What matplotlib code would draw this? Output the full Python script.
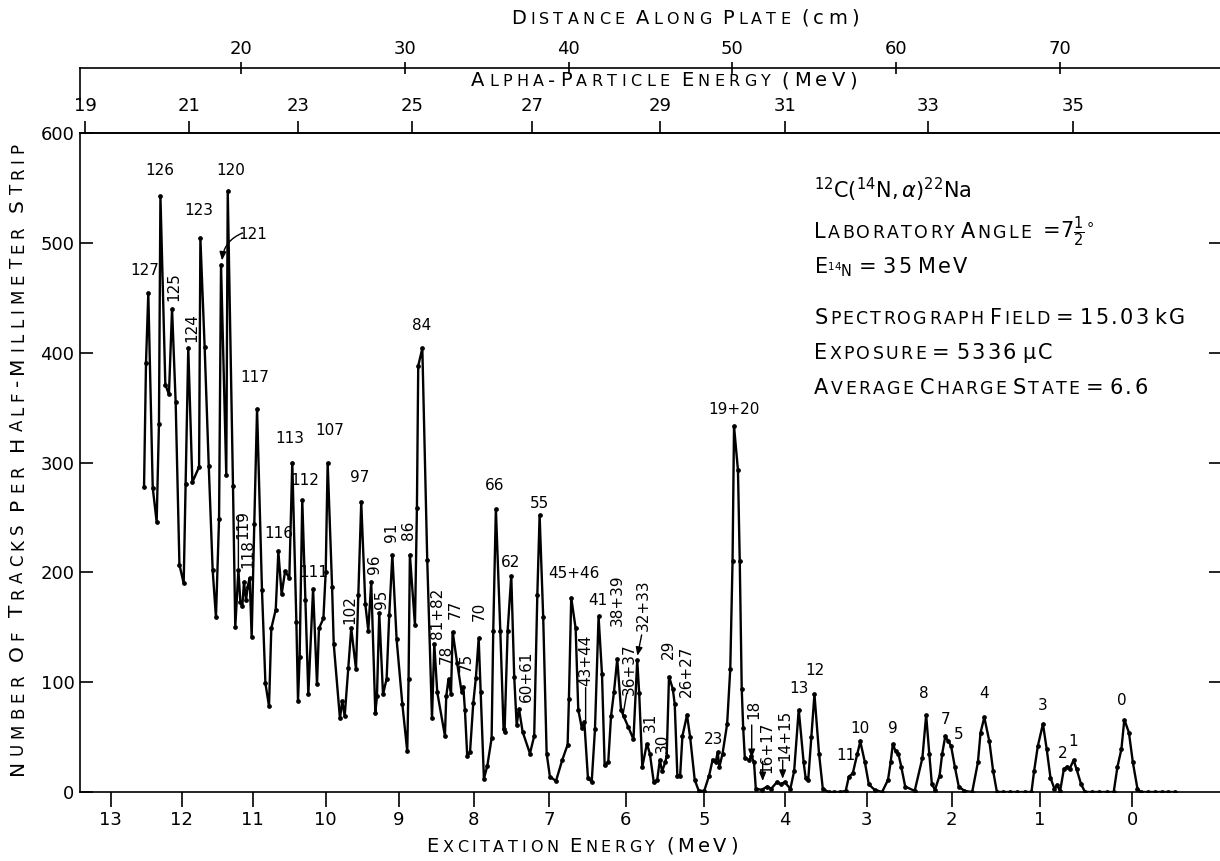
import matplotlib
matplotlib.use("Agg")
import matplotlib.pyplot as plt
from matplotlib.offsetbox import TextArea, HPacker, AnnotationBbox

plt.rcParams["font.family"] = ["DejaVu Sans"]
plt.rcParams["mathtext.fontset"] = "dejavusans"
plt.rcParams["axes.linewidth"] = 1.2

# spectrum: position along plate (cm) and tracks per strip
plate_cm = [
    14.08, 14.20, 14.34, 14.61, 14.85, 14.99, 15.08, 15.38, 15.60, 15.79,
    16.01, 16.24, 16.50, 16.62, 16.78, 17.03, 17.44, 17.52, 17.78, 18.03,
    18.27, 18.47, 18.66, 18.78, 19.10, 19.19, 19.51, 19.65, 19.84, 19.96,
    20.08, 20.18, 20.31, 20.41, 20.53, 20.65, 20.81, 20.98, 21.28, 21.49,
    21.71, 21.85, 22.12, 22.28, 22.48, 22.69, 22.95, 23.13, 23.38, 23.48,
    23.58, 23.74, 23.93, 24.11, 24.40, 24.64, 24.76, 25.03, 25.17, 25.29,
    25.56, 25.66, 26.04, 26.18, 26.33, 26.55, 26.73, 27.02, 27.16, 27.34,
    27.59, 27.77, 27.95, 28.20, 28.30, 28.44, 28.67, 28.89, 29.05, 29.24,
    29.50, 29.85, 30.15, 30.23, 30.31, 30.62, 30.74, 30.82, 31.07, 31.37,
    31.66, 31.80, 31.98, 32.45, 32.53, 32.67, 32.82, 32.92, 33.20, 33.47,
    33.57, 33.67, 33.81, 33.98, 34.18, 34.34, 34.51, 34.63, 34.83, 35.04,
    35.30, 35.40, 35.56, 35.83, 36.03, 36.09, 36.28, 36.50, 36.68, 36.83,
    36.97, 37.19, 37.64, 37.90, 38.09, 38.23, 38.45, 38.66, 38.86, 39.23,
    39.61, 39.94, 40.02, 40.16, 40.43, 40.59, 40.81, 40.96, 41.18, 41.41,
    41.61, 41.83, 42.04, 42.20, 42.42, 42.59, 42.77, 42.97, 43.20, 43.36,
    43.65, 43.96, 44.19, 44.31, 44.50, 44.78, 44.96, 45.20, 45.41, 45.57,
    45.71, 45.90, 45.99, 46.13, 46.36, 46.48, 46.64, 46.81, 46.95, 47.23,
    47.42, 47.70, 47.95, 48.28, 48.58, 48.79, 48.98, 49.10, 49.21, 49.40,
    49.68, 49.87, 50.01, 50.10, 50.34, 50.45, 50.57, 50.66, 50.76, 51.04,
    51.15, 51.32, 51.43, 51.78, 52.14, 52.37, 52.72, 52.95, 53.19, 53.54,
    53.77, 54.05, 54.35, 54.47, 54.63, 54.82, 55.01, 55.29, 55.52, 55.87,
    56.22, 56.57, 56.92, 57.11, 57.35, 57.63, 57.81, 58.09, 58.33, 58.68,
    59.14, 59.50, 59.66, 59.80, 59.96, 60.13, 60.31, 60.55, 61.13, 61.60,
    61.83, 62.02, 62.18, 62.37, 62.65, 62.81, 63.00, 63.19, 63.35, 63.58,
    63.82, 64.17, 64.64, 64.99, 65.15, 65.38, 65.69, 65.92, 66.15, 66.55,
    66.95, 67.40, 67.85, 68.26, 68.42, 68.65, 68.96, 69.19, 69.42, 69.66,
    69.82, 70.01, 70.24, 70.43, 70.59, 70.83, 71.01, 71.29, 71.53, 71.95,
    72.40, 72.85, 73.28, 73.51, 73.75, 73.93, 74.21, 74.45, 74.73, 74.92,
    75.35, 75.80, 76.20, 76.60, 77.02,
]
tracks = [
    278, 391, 454, 277, 246, 335, 543, 371, 362, 440,
    355, 207, 190, 280, 404, 282, 296, 504, 405, 297,
    202, 159, 249, 480, 289, 547, 279, 150, 202, 173,
    169, 191, 175, 187, 195, 141, 244, 349, 184, 99,
    78, 149, 166, 219, 180, 201, 195, 300, 155, 83,
    123, 266, 175, 89, 185, 98, 149, 158, 200, 300,
    187, 135, 67, 83, 69, 113, 149, 112, 179, 264,
    171, 147, 191, 72, 87, 163, 89, 103, 161, 216,
    139, 80, 37, 103, 216, 152, 259, 388, 404, 211,
    67, 135, 91, 51, 87, 103, 89, 146, 117, 91,
    96, 75, 33, 36, 81, 104, 140, 91, 12, 24,
    49, 147, 258, 147, 57, 55, 147, 197, 105, 61,
    76, 55, 35, 51, 179, 252, 159, 35, 14, 10,
    29, 43, 85, 177, 149, 75, 58, 64, 13, 9,
    57, 160, 107, 25, 27, 69, 91, 121, 75, 69,
    59, 48, 120, 90, 23, 44, 35, 9, 11, 29,
    19, 27, 33, 105, 94, 80, 15, 15, 51, 70,
    50, 11, 1, 1, 15, 29, 27, 36, 23, 35,
    62, 112, 210, 333, 293, 210, 94, 58, 31, 29,
    33, 27, 3, 2, 5, 3, 9, 7, 9, 3,
    19, 75, 27, 13, 11, 50, 89, 35, 3, 0,
    0, 0, 1, 14, 17, 35, 46, 27, 7, 2,
    0, 11, 27, 44, 37, 35, 23, 5, 1, 31,
    70, 35, 7, 2, 15, 35, 51, 46, 42, 23,
    5, 1, 0, 27, 54, 68, 46, 19, 0, 0,
    0, 0, 0, 0, 19, 42, 62, 39, 13, 3,
    6, 1, 21, 23, 21, 29, 21, 7, 0, 0,
    0, 0, 0, 23, 39, 66, 54, 27, 3, 0,
    0, 0, 0, 0, 0,
]

# energy scales are not linear along the plate: calibration
ex_mev = [13, 12, 11, 10, 9, 8, 7, 6, 5, 4, 3, 2, 1, 0]
ex_cm = [12.05, 16.38, 20.71, 25.17, 29.65, 34.22, 38.80, 43.50, 48.28,
         53.19, 58.21, 63.39, 68.77, 74.40]
alpha_mev = [19, 21, 23, 25, 27, 29, 31, 33, 35]
alpha_cm = [10.48, 16.84, 23.50, 30.42, 37.75, 45.59, 53.23, 61.95, 70.78]
distance_ticks = [20, 30, 40, 50, 60, 70]

# level labels: text, plate position, height, rotation
peak_text = ["127", "126", "125", "124", "123", "120", "121", "117", "119", "118",
             "116", "113", "112", "111", "107", "102", "97", "96", "95", "91",
             "86", "84", "81+82", "78", "77", "75", "70", "66", "62", "60+61",
             "55", "45+46", "43+44", "41", "38+39", "36+37", "32+33", "31", "30", "29",
             "26+27", "23", "19+20", "18", "16+17", "14+15", "13", "12", "11", "10",
             "9", "8", "7", "5", "4", "3", "2", "1", "0"]
peak_x = [14.14, 15.05, 15.87, 16.99, 17.40, 19.37, 20.69, 20.86, 20.10, 20.41,
          22.28, 22.95, 23.87, 24.42, 25.39, 26.65, 27.22, 28.12, 28.60, 29.17,
          30.23, 31.03, 32.02, 32.53, 33.09, 33.77, 34.57, 35.46, 36.48, 37.40,
          38.25, 40.35, 41.07, 41.80, 42.95, 43.71, 44.55, 44.97, 45.74, 46.10,
          47.18, 48.85, 50.12, 51.32, 52.09, 53.21, 54.07, 55.05, 56.92, 57.79,
          59.78, 61.71, 63.00, 63.82, 65.34, 68.96, 70.17, 70.78, 73.75]
peak_y = [475, 566, 460, 423, 529, 566, 508, 377, 244, 217,
          235, 322, 284, 200, 329, 166, 286, 207, 175, 236,
          238, 425, 163, 125, 166, 118, 164, 279, 209, 105,
          263, 199, 120, 174, 175, 112, 170, 63, 44, 130,
          110, 48, 348, 75, 41, 52, 94, 111, 33, 58,
          58, 90, 66, 52.5, 90, 79, 35, 46, 83]
peak_rot = [0, 0, 90, 90, 0, 0, 0, 0, 90, 90,
            0, 0, 0, 0, 0, 90, 0, 90, 90, 90,
            90, 0, 90, 90, 90, 90, 90, 0, 0, 90,
            0, 0, 90, 0, 90, 90, 90, 90, 90, 90,
            90, 0, 0, 90, 90, 90, 0, 0, 0, 0,
            0, 0, 0, 0, 0, 0, 0, 0, 0]

# leader lines from labels to peaks: (x_from, y_from, x_to, y_to, arrowhead)
leaders = [
    (20.10, 509, 18.84, 484, True),
    (19.84, 251, 19.84, 204, False),
    (41.04, 95, 41.04, 65, False),
    (43.55, 90, 43.32, 70, False),
    (44.46, 143, 44.20, 124, True),
    (51.18, 61, 51.18, 31, True),
    (51.85, 28, 51.85, 10, True),
    (53.07, 29, 53.07, 12, True),
]

W, H = 1220, 861
fig = plt.figure(figsize=(W / 100, H / 100), dpi=100)
ax = fig.add_axes([80 / W, 1 - 792 / H, (W - 80) / W, (792 - 133) / H])


def caps_box(text, big, small, track=2.5, space=7.0):
    # small-caps lettering: lowercase letters become smaller capitals
    words = []
    for w in text.split():
        if w.startswith("$"):
            kids = [TextArea(w, textprops=dict(fontsize=big))]
        else:
            literal = w.startswith("{")
            w = w.strip("{}")
            kids = []
            for ch in w:
                if ch.islower() and not literal:
                    kids.append(TextArea(ch.upper(), textprops=dict(fontsize=small)))
                else:
                    kids.append(TextArea(ch, textprops=dict(fontsize=big)))
        words.append(HPacker(children=kids, align="baseline", pad=0, sep=track))
    return HPacker(children=words, align="baseline", pad=0, sep=space)


def place_caps(text, xy, coords, align, big, small, track=2.5, space=7.0):
    box = caps_box(text, big, small, track, space)
    ab = AnnotationBbox(box, xy, xycoords=coords, box_alignment=align,
                        frameon=False, pad=0, annotation_clip=False)
    ax.add_artist(ab)


def vertical_caps(x_px, y_px, text, big, small, track=2.5, space=7.0):
    prev = None
    for word in text.split():
        for i, ch in enumerate(word):
            size = small if ch.islower() else big
            if prev is None:
                prev = fig.text(x_px / W, y_px / H, ch.upper(), rotation=90,
                                rotation_mode="anchor", ha="left", va="baseline",
                                fontsize=size)
            else:
                gap = track if i > 0 else space
                prev = ax.annotate(ch.upper(), xy=(x_px, 1),
                                   xycoords=("figure pixels", prev),
                                   xytext=(0, gap), textcoords="offset points",
                                   rotation=90, rotation_mode="anchor",
                                   ha="left", va="baseline", fontsize=size,
                                   annotation_clip=False)


ax.plot(plate_cm, tracks, color="black", lw=1.7, marker="o", ms=2.4,
        solid_joinstyle="miter")

ax.set_xlim(10.17, 79.77)
ax.set_ylim(0, 600)
ax.spines["right"].set_visible(False)

ax.set_xticks(ex_cm, labels=[str(v) for v in ex_mev])
ax.tick_params(axis="x", direction="out", length=11, width=1.2, labelsize=13, pad=3)
ax.set_yticks(range(0, 601, 100))
ax.tick_params(axis="y", direction="in", length=9, width=1.2, labelsize=13, pad=4)

right = ax.secondary_yaxis("right")
right.set_yticks(range(100, 501, 100))
right.tick_params(direction="in", length=8, width=1.2, labelright=False)
right.spines["right"].set_visible(False)

top_alpha = ax.secondary_xaxis("top")
top_alpha.set_xticks(alpha_cm, labels=[str(v) for v in alpha_mev])
top_alpha.tick_params(direction="out", length=9, width=1.2, labelsize=13, pad=4)

dist_pos = (792 - 68) / (792 - 133)
top_dist = ax.secondary_xaxis(dist_pos)
top_dist.set_xticks(distance_ticks)
top_dist.tick_params(direction="inout", length=9, width=1.2, labelsize=13, pad=3)
top_dist.spines["top"].set_linewidth(1.2)
ax.plot([0, 0], [dist_pos, (792 - 100) / (792 - 133)], transform=ax.transAxes,
        color="black", lw=1.2, clip_on=False)

for t, x, y, r in zip(peak_text, peak_x, peak_y, peak_rot):
    ax.text(x, y, t, rotation=r, ha="center", va="center", fontsize=11)

for x0, y0, x1, y1, head in leaders:
    style = "-|>,head_length=0.5,head_width=0.2" if head else "-"
    rad = 0.3 if (x0, y0) == (20.10, 509) else 0.0
    ax.annotate("", xy=(x1, y1), xytext=(x0, y0),
                arrowprops=dict(arrowstyle=style, color="black", lw=1.0,
                                shrinkA=0, shrinkB=0,
                                connectionstyle=f"arc3,rad={rad}"))

# reaction and run conditions
info = [
    ("$^{12}\\mathrm{C}(^{14}\\mathrm{N},\\alpha)^{22}\\mathrm{Na}$", 548),
    ("Laboratory Angle $=\\!7\\frac{1}{2}^{\\circ}$", 510),
    ("$\\mathrm{E}_{{}^{14}\\mathrm{N}}$ = 35 {MeV}", 478),
    ("Spectrograph Field = {15.03} {kG}", 432),
    ("Exposure = 5336 {\u03bcC}", 400),
    ("Average Charge State = 6.6", 368),
]
for text, y in info:
    place_caps(text, (55.0, y), "data", (0, 0.5), 15, 12.5, track=1.6, space=4.5)

place_caps("Distance Along Plate {(cm)}", (685 / W, 1 - 18 / H), "figure fraction",
           (0.5, 0.5), 14, 11.5, track=3.0, space=8)
place_caps("Alpha-Particle Energy {(MeV)}", (664 / W, 1 - 81 / H), "figure fraction",
           (0.5, 0.5), 14, 11.5, track=3.2, space=8)
place_caps("Excitation Energy {(MeV)}", (582 / W, 1 - 846 / H), "figure fraction",
           (0.5, 0.5), 14, 11.5, track=2.6, space=8)
vertical_caps(23, H - 775, "Number Of Tracks Per Half-Millimeter Strip", 14.5, 12,
              track=3.6, space=10)

fig.savefig("out.png", dpi=100)
